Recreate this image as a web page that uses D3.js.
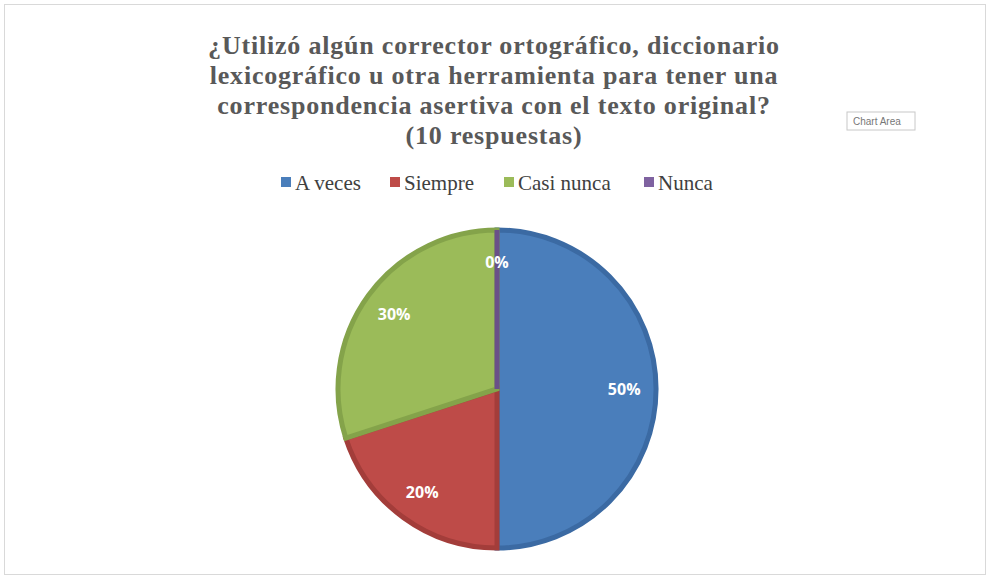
<!DOCTYPE html>
<html><head><meta charset="utf-8">
<script src="https://cdn.jsdelivr.net/npm/d3@7"></script>
<style>body{margin:0;background:#fff}</style></head>
<body><svg id="c" width="990" height="579"></svg>
<script>
const categories = ["A veces","Siempre","Casi nunca","Nunca"];
const values = [50,20,30,0];
const colors = ["#4a7ebb","#be4b48","#9bbb59","#7f62a0"];
const strokes = ["#3b6aa3","#a33d3a","#84a34a","#6a5088"];
const titleLines = ["¿Utilizó algún corrector ortográfico, diccionario","lexicográfico u otra herramienta para tener una","correspondencia asertiva con el texto original?","(10 respuestas)"];

const svg = d3.select("#c");
svg.append("rect").attr("x",4.5).attr("y",4.5).attr("width",981).attr("height",570)
  .attr("fill","#fff").attr("stroke","#d9d9d9");
titleLines.forEach((t,i)=>svg.append("text").attr("x",494).attr("y",54+i*30)
  .attr("text-anchor","middle").attr("font-family","Liberation Serif").attr("font-weight","bold")
  .attr("font-size",26).attr("fill","#595959").attr("letter-spacing",0.8).text(t));

// Chart Area tooltip
const tt = svg.append("g").attr("transform","translate(847,112)");
tt.append("rect").attr("width",68).attr("height",18).attr("fill","#fff").attr("stroke","#c8c8c8");
tt.append("text").attr("x",6).attr("y",13).attr("font-family","Liberation Sans").attr("font-size",10).attr("fill","#777").text("Chart Area");

// legend
const legX = [281,390,504,644];
categories.forEach((c,i)=>{
  svg.append("rect").attr("x",legX[i]).attr("y",177).attr("width",10).attr("height",10).attr("fill",colors[i]);
  svg.append("text").attr("x",legX[i]+14).attr("y",190).attr("font-family","Liberation Serif")
    .attr("font-size",21).attr("fill","#404040").text(c);
});

const cx=497, cy=389, r=159;
const pie = d3.pie().sort(null).value(d=>d)(values);
const arc = d3.arc().innerRadius(0).outerRadius(r);
const g = svg.append("g").attr("transform",`translate(${cx},${cy})`);
g.selectAll("path").data(pie).enter().append("path").attr("d",arc)
  .attr("fill",(d,i)=>colors[i]).attr("stroke",(d,i)=>strokes[i]).attr("stroke-width",5)
  .attr("stroke-linejoin","miter");
const lab = d3.arc().innerRadius(r*0.8).outerRadius(r*0.8);
g.selectAll("text.l").data(pie).enter().append("text")
  .attr("transform",d=>{const p=lab.centroid(d); return `translate(${p[0]},${p[1]+6})`;})
  .attr("text-anchor","middle").attr("font-family","Open Sans").attr("font-weight","bold")
  .attr("font-size",16).attr("fill","#fff").text(d=>d.data+"%");
</script></body></html>
